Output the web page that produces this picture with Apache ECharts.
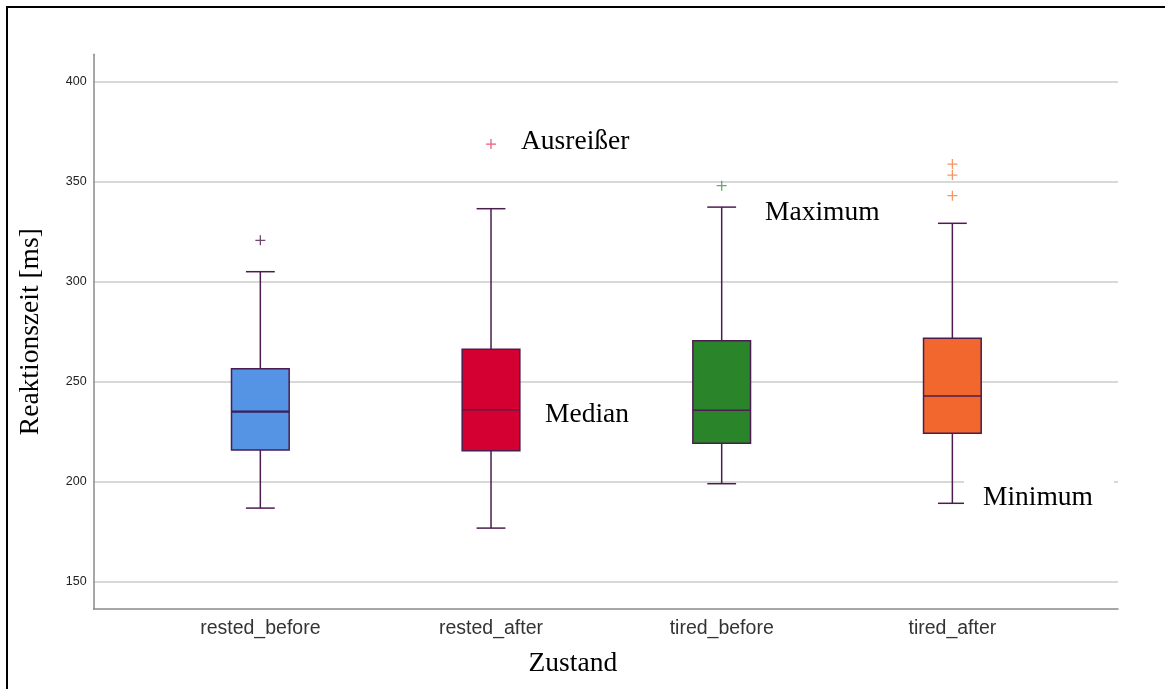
<!DOCTYPE html>
<html>
<head>
<meta charset="utf-8">
<title>Reaktionszeit nach Zustand</title>
<script src="https://cdn.jsdelivr.net/npm/echarts@6/dist/echarts.min.js"></script>
<style>
  html, body { margin: 0; padding: 0; background: #fff; }
  #chart { position: absolute; left: 0; top: 0; width: 1165px; height: 689px; }
  #frame {
    position: absolute; left: 6px; top: 6px; right: -10px; bottom: -10px;
    border-left: 2px solid #000; border-top: 2px solid #000;
    pointer-events: none;
  }
</style>
</head>
<body>
<div id="chart"></div>
<div id="frame"></div>
<script>
// Conditions on the x axis
const categories = ['rested_before', 'rested_after', 'tired_before', 'tired_after'];

// Five-number summaries per condition (ms)
const whiskerLow  = [186.8, 176.8, 199.0, 189.2];
const quartile1   = [215.8, 215.5, 219.2, 224.2];
const medians     = [235.0, 236.0, 235.7, 242.8];
const quartile3   = [256.5, 266.2, 270.5, 271.7];
const whiskerHigh = [305.0, 336.5, 337.3, 329.2];

// Outliers: [condition index, value]
const outliers = [
  [0, 320.7],
  [1, 368.8],
  [2, 348.0],
  [3, 358.8], [3, 353.3], [3, 343.0]
];

// Y axis tick labels
const yTicks = [150, 200, 250, 300, 350, 400];

const boxColors     = ['#5593e4', '#d50032', '#2a852a', '#f2672d'];
const outlierColors = ['#4b1c4f', '#e8365f', '#3a9a3a', '#f47a40'];
const strokeColor = '#4b1c4f';

const yFull = [136.35, 413.7];

const boxData = categories.map((c, i) =>
  [i, whiskerLow[i], quartile1[i], medians[i], quartile3[i], whiskerHigh[i]]);

const plusPath = 'path://M4.35,0H5.65V4.35H10V5.65H5.65V10H4.35V5.65H0V4.35H4.35Z';

function renderBox(params, api) {
  const x = api.value(0);
  const band = api.size([1, 0])[0];
  const w = band * 0.25;
  const capW = w / 2;
  const lo = api.coord([x, api.value(1)]);
  const q1 = api.coord([x, api.value(2)]);
  const md = api.coord([x, api.value(3)]);
  const q3 = api.coord([x, api.value(4)]);
  const hi = api.coord([x, api.value(5)]);
  const cx = md[0];
  const line = { stroke: strokeColor, lineWidth: 1.5 };
  const i = params.dataIndex;
  return {
    type: 'group',
    children: [
      { type: 'line', shape: { x1: cx, y1: q3[1], x2: cx, y2: hi[1] }, style: line },
      { type: 'line', shape: { x1: cx - capW / 2, y1: hi[1], x2: cx + capW / 2, y2: hi[1] }, style: line },
      { type: 'line', shape: { x1: cx, y1: q1[1], x2: cx, y2: lo[1] }, style: line },
      { type: 'line', shape: { x1: cx - capW / 2, y1: lo[1], x2: cx + capW / 2, y2: lo[1] }, style: line },
      { type: 'rect', shape: { x: cx - w / 2, y: q3[1], width: w, height: q1[1] - q3[1] },
        style: { fill: boxColors[i], stroke: strokeColor, lineWidth: 1.5 } },
      { type: 'line', shape: { x1: cx - w / 2, y1: md[1], x2: cx + w / 2, y2: md[1] },
        style: { stroke: i === 0 ? '#3b1f5b' : strokeColor, lineWidth: i === 0 ? 2.2 : 1.5 } }
    ]
  };
}

const serif = '"Liberation Serif", "Times New Roman", serif';
const sans = '"Liberation Sans", Arial, sans-serif';

const chart = echarts.init(document.getElementById('chart'), null, { renderer: 'canvas' });

chart.setOption({
  animation: false,
  backgroundColor: '#fff',
  grid: [
    // gridlines and tick labels
    { left: 93.7, right: 47, top: 81.7, height: 500 },
    // axis lines and titles
    { left: 93.7, right: 47, top: 54.3, height: 554.7 },
    // boxes
    { left: 145, width: 922.7, top: 54.3, height: 554.7 }
  ],
  xAxis: [
    { gridIndex: 0, type: 'value', show: false },
    {
      gridIndex: 1, type: 'value', min: 0, max: 1,
      axisLine: { show: true, lineStyle: { color: '#8a8a8a', width: 1.5 } },
      axisTick: { show: false }, axisLabel: { show: false }, splitLine: { show: false },
      name: 'Zustand', nameLocation: 'middle', nameGap: 41,
      nameTextStyle: { fontFamily: serif, fontSize: 27.5, color: '#000', padding: [0, 66, 0, 0] }
    },
    {
      gridIndex: 2, type: 'category', data: categories, boundaryGap: true,
      axisLine: { show: false }, axisTick: { show: false },
      axisLabel: { fontFamily: sans, fontSize: 19.5, color: '#333', margin: 10 }
    }
  ],
  yAxis: [
    {
      gridIndex: 0, type: 'value', min: yTicks[0], max: yTicks[yTicks.length - 1], interval: 50,
      axisLine: { show: false }, axisTick: { show: false },
      axisLabel: { fontFamily: sans, fontSize: 12.5, color: '#222', margin: 7 },
      splitLine: { show: true, lineStyle: { color: '#cbcbcb', width: 1.5 } }
    },
    {
      gridIndex: 1, type: 'value', min: yFull[0], max: yFull[1],
      axisLine: { show: true, lineStyle: { color: '#8a8a8a', width: 1.5 } },
      axisTick: { show: false }, axisLabel: { show: false }, splitLine: { show: false },
      name: 'Reaktionszeit [ms]', nameLocation: 'middle', nameGap: 49,
      nameTextStyle: { fontFamily: serif, fontSize: 27.5, color: '#000' }
    },
    { gridIndex: 2, type: 'value', min: yFull[0], max: yFull[1], show: false }
  ],
  graphic: [
    { type: 'rect', z: 100, shape: { x: 964, y: 470, width: 150, height: 40 }, style: { fill: '#fff' } },
    { type: 'text', z: 101, style: { x: 521, y: 128, text: 'Ausreißer', font: '27.5px ' + serif, fill: '#000' } },
    { type: 'text', z: 101, style: { x: 545, y: 401, text: 'Median', font: '27.5px ' + serif, fill: '#000' } },
    { type: 'text', z: 101, style: { x: 765, y: 199, text: 'Maximum', font: '27.5px ' + serif, fill: '#000' } },
    { type: 'text', z: 101, style: { x: 983, y: 484, text: 'Minimum', font: '27.5px ' + serif, fill: '#000' } }
  ],
  series: [
    {
      type: 'custom', xAxisIndex: 2, yAxisIndex: 2,
      renderItem: renderBox,
      encode: { x: 0, y: [1, 2, 3, 4, 5] },
      data: boxData
    },
    {
      type: 'scatter', xAxisIndex: 2, yAxisIndex: 2,
      symbol: plusPath, symbolSize: 10,
      itemStyle: { color: (p) => outlierColors[p.value[0]] },
      data: outliers
    }
  ]
});
</script>
</body>
</html>
